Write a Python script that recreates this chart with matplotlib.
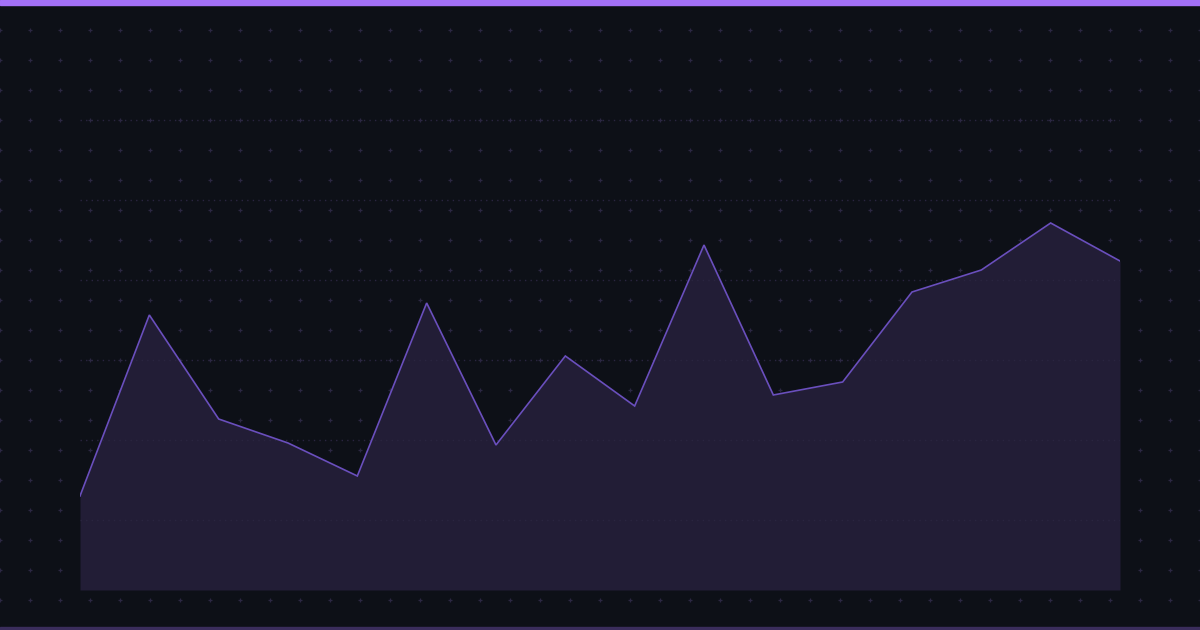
import numpy as np
import matplotlib.pyplot as plt

# values (height above the baseline, in px units)
points = list(range(16))
values = [94, 275, 171, 147, 114, 287, 145, 234, 184, 345, 195, 208, 298, 320, 367, 329]
grid_levels = [70, 150, 230, 310, 390, 470]

BG = "#0d1017"
FILL = "#221d36"
LINE = "#6a4fbd"
GRID = "#2a2540"
DOT = "#2b2742"

W, H = 1200, 630
fig = plt.figure(figsize=(12, 6.3), dpi=100, facecolor=BG)

# background dot (plus) pattern over the whole canvas
bg = fig.add_axes([0, 0, 1, 1])
bg.set_xlim(0, W); bg.set_ylim(H, 0)
bg.axis("off")
gx, gy = np.meshgrid(np.arange(0, W + 1, 30), np.arange(30, H, 30))
bg.scatter(gx.ravel(), gy.ravel(), marker="+", s=12, linewidths=0.9, color=DOT, zorder=1)
# top accent bar and bottom strip
bg.axhspan(0, 5, color="#a371f7", zorder=3)
bg.axhspan(627, 630, color="#3a2d5c", zorder=3)

# main chart
left, right, bottom_px, top_px = 80, 1120, 590, 118
ax = fig.add_axes([left / W, (H - bottom_px) / H, (right - left) / W, (bottom_px - top_px) / H])
ax.set_facecolor("none")
ax.set_xlim(0, 15)
ax.set_ylim(0, bottom_px - top_px)
ax.fill_between(points, values, 0, color=FILL, zorder=2, linewidth=0)
for g in grid_levels:
    ax.axhline(g, color=GRID, linewidth=1, linestyle=(0, (1, 3)), zorder=3)
ax.plot(points, values, color=LINE, linewidth=1.2, zorder=4, solid_joinstyle="miter")
for s in ax.spines.values():
    s.set_visible(False)
ax.set_xticks([]); ax.set_yticks([])

fig.savefig("out.png", dpi=100, facecolor=BG)
